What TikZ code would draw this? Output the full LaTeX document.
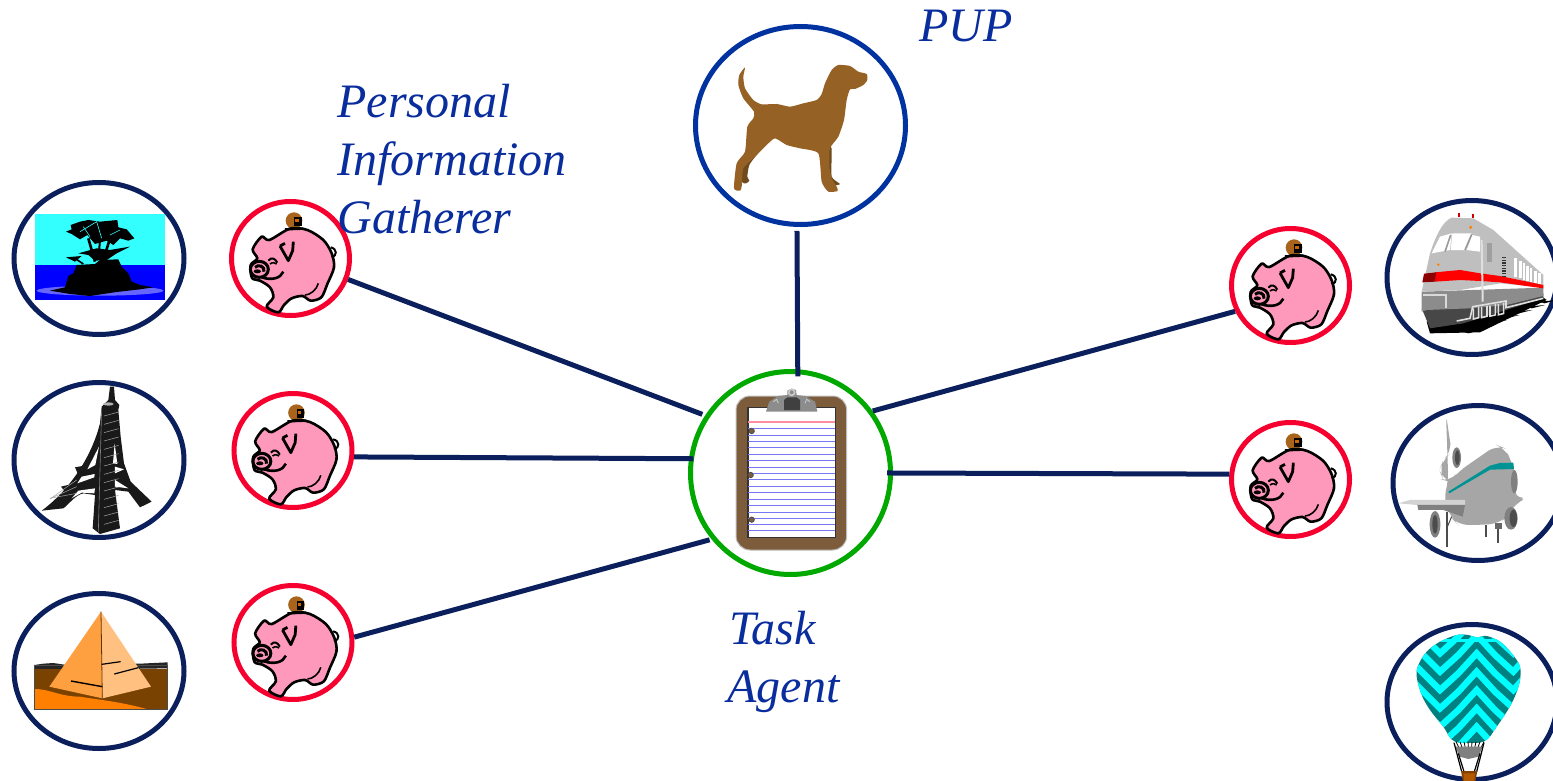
\documentclass[tikz,border=0pt]{standalone}
\usepackage{fontspec}
\setmainfont{Liberation Serif}
\usetikzlibrary{shapes.geometric}
\definecolor{navy}{HTML}{0A1F5C}
\definecolor{dogring}{HTML}{0033A0}
\definecolor{pigring}{HTML}{F5002F}
\definecolor{taskring}{HTML}{00A800}
\definecolor{labelblue}{HTML}{0A2D9E}
\definecolor{pigpink}{HTML}{FF99BB}
\definecolor{dogbrown}{HTML}{966125}
\definecolor{dogdark}{HTML}{6E4A1C}
\definecolor{board}{HTML}{7D5C3B}
\definecolor{teal}{HTML}{008080}
\definecolor{skycyan}{HTML}{33FFFF}
\definecolor{purecyan}{HTML}{00FFFF}
\definecolor{pyrleft}{HTML}{FFA040}
\definecolor{pyrright}{HTML}{FFC080}
\definecolor{sandbrown}{HTML}{7A4200}
\definecolor{sandorange}{HTML}{FF8000}
\definecolor{coin}{HTML}{A8641A}
\definecolor{paperred}{HTML}{FF8FA0}
\definecolor{paperblue}{HTML}{7878F5}
\tikzset{
  ring/.style={ellipse,draw=navy,line width=2.5pt,inner sep=0pt,fill=none},
  agentline/.style={draw=navy,line width=2.5pt},
  lab/.style={text=labelblue,font=\fontsize{24}{29}\selectfont\itshape,inner sep=0pt,align=left,anchor=north west},
  pig art/.pic={
    \begin{scope}[scale=1/3,shift={(-211.5,-205.5)}]
      \fill[coin] (222,92) circle (25);
      \fill[black] (222,80) rectangle (245,108);
      \fill[orange!80!black] (226,86) rectangle (236,96);
      \draw[line width=1.3pt,fill=pigpink,line join=round]
        plot[smooth cycle,tension=.5] coordinates {(98,178)(125,140)(148,150)(210,116)(262,120)(310,150)(335,190)(342,232)(322,282)(304,322)(272,332)(248,318)(215,325)(192,345)(175,367)(140,350)(160,322)(150,292)(120,272)(96,264)(92,225)(112,205)};
      \draw[line width=1.2pt] (195,118) -- (250,116);
      \draw[line width=1.4pt,line join=round] (180,168) -- (205,212) -- (218,182) -- (220,155);
      \draw[line width=1.4pt] (180,168) -- (195,160);
      \draw[line width=1.5pt] (118,238) ellipse (27 and 24);
      \draw[line width=1.5pt] (105,232) .. controls (115,222) and (135,228) .. (132,245);
      \fill (112,244) ellipse (11 and 6);
      \draw[line width=1pt] (145,212) .. controls (155,200) and (165,205) .. (172,218);
      \draw[line width=.8pt] (150,222) .. controls (158,216) and (165,218) .. (170,222);
      \draw[line width=1.3pt] (125,262) .. controls (155,272) and (182,265) .. (190,245);
      \draw[line width=1pt] (332,172) .. controls (352,176) and (352,198) .. (335,202);
      \draw[line width=.8pt] (295,280) .. controls (290,300) and (270,315) .. (255,315);
    \end{scope}
  }
}
\begin{document}
\begin{tikzpicture}[x=0.5pt,y=-0.5pt]
\clip (0,0) rectangle (1553,781);
\fill[white] (0,0) rectangle (1553,781);
% ---- rings
\node[ring,minimum width=59pt,minimum height=57pt,draw=pigring] (p1) at (290.5,258.5) {};
\node[ring,minimum width=59pt,minimum height=57pt,draw=pigring] (p2) at (293,450.5) {};
\node[ring,minimum width=59pt,minimum height=57pt,draw=pigring] (p3) at (293,642.5) {};
\node[ring,minimum width=59pt,minimum height=57pt,draw=pigring] (p4) at (1290.5,285.5) {};
\node[ring,minimum width=59pt,minimum height=57pt,draw=pigring] (p5) at (1290.5,479.5) {};
\node[ring,minimum width=85pt,minimum height=76pt] (a1) at (99,258.5) {};
\node[ring,minimum width=85pt,minimum height=77.5pt] (a2) at (99,460) {};
\node[ring,minimum width=85pt,minimum height=77.5pt] (a3) at (99,671) {};
\node[ring,minimum width=85pt,minimum height=77pt] (r1) at (1472,277.5) {};
\node[ring,minimum width=85pt,minimum height=77.5pt] (r2) at (1478,483) {};
\node[ring,minimum width=85pt,minimum height=77.5pt] (r3) at (1472,702) {};
\node[ring,minimum width=105pt,minimum height=99pt,draw=dogring] (dog) at (800.5,125.5) {};
\node[ring,minimum width=100pt,minimum height=101.5pt,draw=taskring] (task) at (790.5,473) {};
% ---- pigs
\pic at (p1.center) {pig art};
\pic at (p2.center) {pig art};
\pic at (p3.center) {pig art};
\pic at (p4.center) {pig art};
\pic at (p5.center) {pig art};
% ---- dog
\begin{scope}[shift={(690,20)},scale=1/3]
  \fill[dogdark] plot[smooth cycle,tension=.4] coordinates {(240,360)(200,405)(178,435)(172,470)(178,482)(168,490)(156,486)(155,445)(190,390)};
  \fill[dogdark] plot[smooth cycle,tension=.3] coordinates {(416,385)(425,385)(425,470)(450,492)(430,496)(400,480)};
  \fill[dogbrown] plot[smooth cycle,tension=.35] coordinates {(165,142)(160,170)(165,205)(190,240)(215,253)(260,252)(300,260)(340,250)(380,240)(395,222)(405,190)(425,150)(445,135)(480,138)(505,155)(530,162)(532,180)(520,195)(495,207)(480,208)(470,240)(462,300)(445,350)(420,385)(418,440)(425,475)(440,500)(443,513)(415,515)(395,485)(385,400)(330,385)(290,375)(255,355)(230,375)(190,415)(160,445)(155,500)(150,512)(132,505)(140,430)(165,395)(172,320)(190,295)(192,275)(160,235)(145,195)(148,165)};
\end{scope}
% ---- clipboard
\begin{scope}[shift={(680,360)},scale=1/3]
  \draw[draw=gray!50,fill=board,rounded corners=7pt,line width=.5pt] (168,108) rectangle (500,570);
  \draw[fill=white,draw=black!80,line width=.6pt] (204,142) rectangle (467,533);
  \draw[paperred,line width=1pt] (205,185) -- (466,185);
  \foreach \yy in {204,225,244,263,282,302,321,340,358,379,398,417,436,456,475,494,512}
    \draw[paperblue,line width=.5pt] (205,\yy) -- (466,\yy);
  \foreach \xx/\yy in {215/213,212/345,215/479}
    \draw[fill=board,draw=black!70,line width=.4pt] (\xx,\yy) circle (8);
  \fill[gray!90] (258,155) -- (412,155) -- (405,125) -- (375,108) -- (350,105) -- (348,90) -- (335,86) -- (322,92) -- (322,105) -- (295,108) -- (268,125) -- cycle;
  \draw[gray!40,line width=.8pt] (335,97) circle (9);
  \fill[black!75] (312,120) -- (322,112) -- (350,112) -- (360,120) -- (360,150) -- (312,150) -- cycle;
  \draw[gray!40,line width=.4pt] (280,125) -- (290,118) -- (295,130);
  \draw[gray!40,line width=.4pt] (390,125) -- (380,118) -- (375,130);
\end{scope}
% ---- island
\begin{scope}[shift={(0,170)},scale=1/3]
  \fill[skycyan] (105,132) rectangle (495,285);
  \fill[blue] (105,285) rectangle (495,389);
  \fill[blue!60!white] (300,362) ellipse (190 and 15);
  \fill[black] (150,362) -- (195,352) -- (205,318) -- (220,310) -- (230,285) -- (285,282) -- (300,270) -- (355,268) -- (365,290) -- (385,310) -- (395,335) -- (420,345) -- (460,352) -- (420,358) -- (350,366) -- (270,378) -- (210,372) -- cycle;
  \fill[black] (198,185) -- (215,178) -- (212,165) -- (240,155) -- (265,150) -- (300,155) -- (352,150) -- (355,172) -- (380,178) -- (403,205) -- (385,212) -- (360,205) -- (340,225) -- (320,212) -- (285,222) -- (262,195) -- (240,208) -- (215,192) -- cycle;
  \fill[black] (235,250) -- (290,235) -- (330,240) -- (390,230) -- (350,250) -- (320,270) -- (285,272) -- (265,255) -- cycle;
  \draw[black,line width=1.3pt] (285,275) -- (265,205);
  \draw[black,line width=1.3pt] (310,270) -- (330,205);
  \draw[black,line width=1pt] (295,270) -- (300,210);
  \fill[black] (198,262) -- (245,258) -- (225,275) -- cycle;
  \draw[black,line width=.8pt] (250,282) -- (225,265);
  \draw[skycyan,line width=.3pt] (240,185) -- (290,155) -- (305,205);
  \draw[skycyan,line width=.3pt] (330,195) -- (360,180);
  \draw[skycyan,line width=.3pt] (250,170) -- (270,200);
\end{scope}
% ---- Eiffel
\begin{scope}[shift={(0,170)},scale=1/3]
  \fill[black!90] (330,650) -- (342,650) -- (345,690) -- (358,705) -- (355,720) -- (362,800) -- (372,880) -- (392,935) -- (455,995) -- (420,1012) -- (385,965) -- (345,960) -- (358,1060) -- (360,1075) -- (300,1092) -- (278,1075) -- (285,975) -- (250,970) .. controls (225,975) and (205,1005) .. (190,1015) -- (125,1022) .. controls (190,975) and (270,880) .. (300,760) -- (305,710) -- (325,690) -- cycle;
  \fill[black!90] (225,892) -- (290,880) -- (290,910) -- (235,915) -- cycle;
  \fill[black!90] (183,950) -- (285,925) -- (285,950) -- (195,965) -- cycle;
  \fill[white] (344,820) -- (352,882) -- (339,880) -- cycle;
  \fill[white] (297,830) -- (286,885) -- (262,898) -- cycle;
  \fill[white] (284,912) -- (283,922) -- (232,940) -- (245,920) -- cycle;
  \fill[white] (285,955) -- (283,970) -- (245,968) -- (215,985) -- (235,962) -- cycle;
  \fill[white] (345,930) -- (385,955) -- (345,950) -- cycle;
  \fill[white] (345,890) -- (372,898) -- (345,910) -- cycle;
  \foreach \yy in {730,755,...,1070}
    \draw[gray!70,line width=.25pt] (312,\yy+8) -- (356,\yy-4);
  \foreach \yy in {960,980,1000}
    \draw[gray!70,line width=.25pt] (150,{1050-\yy+\yy*.95-15}) -- (230,{\yy-30});
  \draw[gray,line width=.3pt] (305,715) -- (295,1085);
  \fill[gray!60] (325,702) ellipse (16 and 5);
\end{scope}
% ---- pyramid
\begin{scope}[shift={(0,585)},scale=1/3]
  \fill[black!85] (103,240) -- (130,236) -- (160,234) -- (200,240) -- (420,236) -- (503,232) -- (503,250) -- (103,256) -- cycle;
  \fill[sandbrown] (103,252) rectangle (503,372);
  \fill[sandorange] (103,312) .. controls (150,312) and (180,335) .. (240,335) .. controls (300,345) and (360,350) .. (440,372) -- (103,372) -- cycle;
  \draw[black!70,line width=.4pt] (103,240) rectangle (503,372);
  \fill[pyrleft] (303,80) -- (148,305) -- (307,340) -- cycle;
  \fill[pyrright] (303,80) -- (453,305) -- (307,340) -- cycle;
  \draw[black!60!orange,line width=.4pt] (303,80) -- (307,340);
  \draw[black,line width=.6pt] (305,238) -- (362,230);
  \draw[black,line width=.6pt] (343,267) -- (415,248);
  \draw[black,line width=.7pt] (213,288) -- (307,305);
\end{scope}
% ---- train
\begin{scope}[shift={(1380,195)},scale=1/3]
  \fill[black] (140,380) -- (150,415) -- (300,412) -- (500,315) -- (480,300) -- cycle;
  \foreach \i in {0,1,...,6}
    \fill[black] ({250+\i*38},{410-\i*15}) -- ({305+\i*38},{405-\i*15}) -- ({265+\i*38},{415-\i*15}) -- cycle;
  \fill[black!72] (125,340) -- (150,400) -- (250,385) -- (490,310) -- (490,295) -- cycle;
  \fill[gray!90] (125,290) -- (490,278) -- (490,303) -- (380,330) -- (270,340) -- (140,345) -- (125,350) -- cycle;
  \fill[gray!50] (125,290) -- (150,175) .. controls (165,130) and (185,80) .. (215,68) -- (280,70) -- (340,105) -- (490,240) -- (490,278) -- (360,265) -- (240,285) -- cycle;
  \fill[red] (165,232) -- (240,225) -- (300,235) -- (360,243) -- (490,270) -- (490,280) -- (360,262) -- (300,258) -- (240,255) -- (165,260) -- cycle;
  \fill[red!55!black] (132,236) -- (168,232) -- (165,260) -- (127,262) -- cycle;
  \fill[white] (155,175) -- (180,125) -- (215,115) -- (210,165) -- cycle;
  \fill[white] (217,115) -- (275,115) -- (258,165) -- (212,165) -- cycle;
  \fill[white] (277,120) -- (300,125) -- (300,170) -- (260,165) -- cycle;
  \foreach \xx/\a/\b in {403/190/245,417/198/250,428/205/254,438/212/258,449/218/260,462/228/264,474/235/268}
    \fill[white] (\xx,\a) rectangle (\xx+8,\b);
  \foreach \yy in {186,194,...,242}
    \fill[black!80] (365,\yy) rectangle (378,\yy+4);
  \fill[red!80!black] (235,55) rectangle (241,66);
  \fill[red!80!black] (275,58) rectangle (281,70);
  \fill[orange] (272,97) circle (5);
  \fill[orange] (175,209) circle (4);
  \draw[gray!25,line width=.8pt] (230,378) -- (270,370) -- (278,335) -- (378,318) -- (378,338) -- (490,310);
  \foreach \xx in {280,305,330,355}
    \draw[gray!25,line width=.8pt] (\xx,{340-(\xx-280)/6}) -- (\xx,{372-(\xx-280)/6}) -- (\xx+16,{368-(\xx-280)/6}) -- (\xx+16,{336-(\xx-280)/6});
  \draw[gray!25,line width=1pt] (305,135) -- (308,320);
  \fill[gray!75] (320,145) rectangle (335,200);
  \draw[gray!80,line width=.8pt] (212,120) -- (195,170);
  \draw[gray!80,line width=.8pt] (275,118) -- (255,165);
  \fill[gray!30] (130,297) rectangle (200,304);
  \fill[gray!30] (196,297) rectangle (200,340);
\end{scope}
% ---- plane
\begin{scope}[shift={(1380,195)},scale=1/3]
  \fill[gray!70,rounded corners=5pt] (198,655) -- (207,720) -- (215,770) -- (190,795) -- (178,825) -- (190,855) -- (210,860) -- (235,830) -- (350,750) -- (375,760) -- (395,800) -- (412,860) -- (400,910) -- (445,907) -- (405,925) -- (385,960) -- (360,985) -- (300,990) -- (235,990) -- (215,970) -- (190,915) -- (205,860) -- cycle;
  \fill[gray!35] (55,925) -- (90,915) -- (255,915) -- (255,930) -- (112,930) -- cycle;
  \fill[gray] (112,930) -- (255,930) -- (248,965) -- (190,945) -- (115,945) -- cycle;
  \fill[gray] (230,788) ellipse (13 and 31);
  \fill[black!70] (232,788) ellipse (7 and 22);
  \fill[gray] (165,988) ellipse (16 and 40);
  \fill[black!70] (165,988) ellipse (8 and 28);
  \fill[gray] (393,970) ellipse (20 and 34);
  \fill[black!70] (400,970) ellipse (11 and 26);
  \fill[gray] (403,860) ellipse (10 and 35);
  \fill[teal!85!cyan] (205,890) -- (330,812) -- (360,804) -- (400,803) -- (402,822) -- (330,824) -- (208,895) -- cycle;
  \draw[black!70,line width=.9pt] (200,950) -- (200,1055);
  \draw[black!70,line width=.5pt] (215,965) -- (200,1000);
  \draw[black!70,line width=.9pt] (318,990) -- (318,1025);
  \draw[black!70,line width=1pt] (353,990) -- (353,1045);
  \fill[black!60] (346,985) rectangle (365,1003);
\end{scope}
% ---- balloon
\begin{scope}[shift={(1380,620)},scale=1/3]
  \begin{scope}
    \clip plot[smooth cycle,tension=.55] coordinates {(290,52)(265,45)(230,45)(180,65)(140,95)(115,135)(110,170)(125,225)(150,270)(190,320)(225,365)(310,365)(350,320)(395,250)(418,190)(420,140)(395,100)(360,65)(320,48)};
    \fill[teal] (100,30) rectangle (430,370);
    \foreach \k in {1,...,8}
      \draw[purecyan,line width=3.2pt,line join=miter]
        (90,{\k*55-100}) -- (180,{\k*55-10}) -- (235,{\k*55-60}) -- (290,{\k*55-120}) -- (345,{\k*55-60}) -- (400,{\k*55-10}) -- (440,{\k*55-55});
    \draw[purecyan,line width=1.5pt] (100,60) -- (440,60);
  \end{scope}
  \foreach \xx in {228,240,252,264,276,288,300,312}
    \draw[black,line width=.4pt] (\xx,365) -- ({\xx+(270-\xx)*.2},382);
  \fill[gray] (225,380) -- (308,380) -- (295,410) -- (265,417) -- (240,410) -- cycle;
  \draw[black,line width=.6pt] (222,368) -- (245,455);
  \draw[black,line width=.6pt] (235,400) -- (252,455);
  \draw[black,line width=.6pt] (312,368) -- (290,455);
  \draw[black,line width=.6pt] (300,400) -- (283,455);
  \fill[black!50!orange] (243,453) -- (292,453) -- (285,490) -- (250,490) -- cycle;
  \fill[orange!70!black] (250,460) -- (285,460) -- (282,490) -- (253,490) -- cycle;
\end{scope}
% ---- connectors
\draw[agentline,shorten >=1.5pt] (p1.-20.5) -- (task.146);
\draw[agentline,shorten >=-2.2pt] (p2.-6) -- (task.172);
\draw[agentline,shorten >=1pt] (p3.5) -- (task.220);
\draw[agentline,shorten <=2pt,shorten >=-3.5pt] (dog.-92) -- (task.86);
\draw[agentline] (task.37.8) -- (p4.205.5);
\draw[agentline,shorten <=-3pt] (task.0.6) -- (p5.175);
% ---- labels
\node[lab] (lpig) at (337,84) {Personal\\Information\\Gatherer};
\node[lab] (lpup) at (919,10) {PUP};
\node[lab] (ltask) at (727,611) {\hspace*{1pt}Task\\Agent};
\end{tikzpicture}
\end{document}
